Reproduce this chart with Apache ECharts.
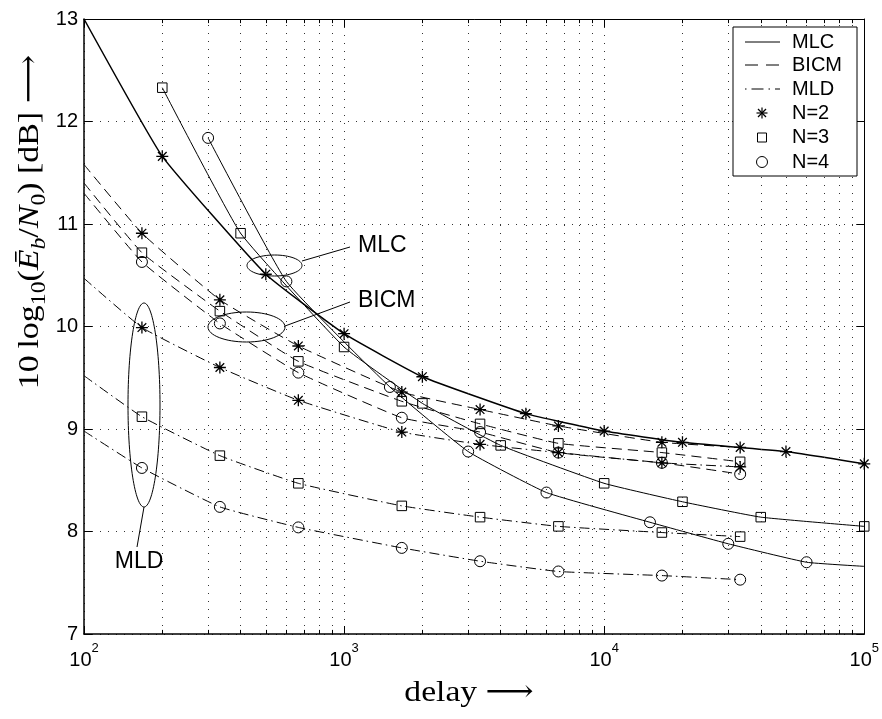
<!DOCTYPE html>
<html>
<head>
<meta charset="utf-8">
<script src="https://cdn.jsdelivr.net/npm/echarts@6/dist/echarts.min.js"></script>
<style>
  html, body { margin: 0; padding: 0; background: #fff; }
  #chart { width: 882px; height: 719px; }
</style>
</head>
<body>
<div id="chart"></div>
<script>
// Delay grids for the different curves
const delaysMLC2 = [100, 200, 500, 1000, 2000, 5000, 10000, 20000, 50000, 100000];
const delaysMLC3 = [200, 400, 1000, 2000, 4000, 10000, 20000, 40000, 100000];
const delaysMLC4 = [300, 600, 1500, 3000, 6000, 15000, 30000, 60000, 100000];
const delaysShort = [100, 167, 333, 667, 1667, 3333, 6667, 16667, 33333];

// Required 10log10(Eb/N0) in dB
const mlcN2 = [13.0, 11.66, 10.51, 9.93, 9.51, 9.15, 8.98, 8.87, 8.78, 8.66];
const mlcN3 = [12.33, 10.91, 9.80, 9.25, 8.84, 8.47, 8.29, 8.14, 8.05];
const mlcN4 = [11.84, 10.44, 9.41, 8.78, 8.38, 8.09, 7.88, 7.70, 7.66];
const bicmN2 = [11.58, 10.91, 10.26, 9.81, 9.36, 9.19, 9.03, 8.87, 8.82];
const bicmN3 = [11.40, 10.72, 10.15, 9.66, 9.27, 9.05, 8.86, 8.77, 8.68];
const bicmN4 = [11.30, 10.63, 10.03, 9.55, 9.11, 8.97, 8.77, 8.67, 8.56];
const mldN2 = [10.47, 9.99, 9.60, 9.28, 8.97, 8.85, 8.77, 8.67, 8.63];
const mldN3 = [9.52, 9.12, 8.74, 8.47, 8.25, 8.14, 8.05, 7.99, 7.95];
const mldN4 = [8.98, 8.62, 8.24, 8.04, 7.84, 7.71, 7.61, 7.57, 7.53];

// Axis settings
const yTicks = [7, 8, 9, 10, 11, 12, 13];
const minorDelays = [200, 300, 400, 500, 600, 700, 800, 900,
                     2000, 3000, 4000, 5000, 6000, 7000, 8000, 9000,
                     20000, 30000, 40000, 50000, 60000, 70000, 80000, 90000];

const legendLabels = ['MLC', 'BICM', 'MLD', 'N=2', 'N=3', 'N=4'];
const annotationLabels = ['MLC', 'BICM', 'MLD'];

const SANS = 'Liberation Sans, Arial, Helvetica, sans-serif';
const SERIF = 'Liberation Serif, DejaVu Serif, Times New Roman, serif';

const STAR = 'path://M0,-10L0,10M-10,0L10,0M-7.2,-7.2L7.2,7.2M-7.2,7.2L7.2,-7.2';
const markers = {
  star: { symbol: STAR, size: 12, border: 1.3 },
  square: { symbol: 'rect', size: 9.5, border: 1 },
  circle: { symbol: 'circle', size: 11, border: 1 }
};
const dashes = {
  solid: 'solid',
  dashed: [10, 6],
  dashdot: [10, 4, 1.5, 4]
};

const series = [];
function addCurve(name, xs, ys, dash, marker, width, unmarked) {
  series.push({
    name: name,
    type: 'line',
    xAxisIndex: 0,
    yAxisIndex: 0,
    data: xs.map(function (x, i) {
      const d = { value: [x, ys[i]] };
      if (unmarked.indexOf(i) >= 0) d.symbol = 'none';
      return d;
    }),
    symbol: marker.symbol,
    symbolSize: marker.size,
    smooth: 0.12,
    lineStyle: { color: '#000', width: width, type: dash },
    itemStyle: { color: 'rgba(0,0,0,0)', borderColor: '#000', borderWidth: marker.border },
    emphasis: { disabled: true },
    silent: true,
    animation: false,
    clip: true,
    z: 3
  });
}

addCurve('MLC N=2', delaysMLC2, mlcN2, dashes.solid, markers.star, 1.5, [0]);
addCurve('MLC N=3', delaysMLC3, mlcN3, dashes.solid, markers.square, 1, []);
addCurve('MLC N=4', delaysMLC4, mlcN4, dashes.solid, markers.circle, 1, [8]);
addCurve('BICM N=2', delaysShort, bicmN2, dashes.dashed, markers.star, 1, [0]);
addCurve('BICM N=3', delaysShort, bicmN3, dashes.dashed, markers.square, 1, [0]);
addCurve('BICM N=4', delaysShort, bicmN4, dashes.dashed, markers.circle, 1, [0]);
addCurve('MLD N=2', delaysShort, mldN2, dashes.dashdot, markers.star, 1, [0]);
addCurve('MLD N=3', delaysShort, mldN3, dashes.dashdot, markers.square, 1, [0]);
addCurve('MLD N=4', delaysShort, mldN4, dashes.dashdot, markers.circle, 1, [0]);

// Minor log grid lines and the short minor ticks on the bottom and top edges
const gridDots = { type: [1, 7], color: '#333', width: 1 };
series.push({
  type: 'line',
  data: [],
  silent: true,
  animation: false,
  markLine: {
    silent: true,
    animation: false,
    symbol: ['none', 'none'],
    label: { show: false },
    lineStyle: gridDots,
    emphasis: { disabled: true },
    data: minorDelays.map(function (v) { return { xAxis: v }; })
  }
});
const tickLines = [];
minorDelays.forEach(function (v) {
  tickLines.push([{ coord: [v, 7] }, { coord: [v, 7.04] }]);
  tickLines.push([{ coord: [v, 13] }, { coord: [v, 12.96] }]);
});
series.push({
  type: 'line',
  data: [],
  silent: true,
  animation: false,
  markLine: {
    silent: true,
    animation: false,
    symbol: ['none', 'none'],
    label: { show: false },
    lineStyle: { type: 'solid', color: '#000', width: 1 },
    emphasis: { disabled: true },
    data: tickLines
  }
});

const chart = echarts.init(document.getElementById('chart'), null, { renderer: 'canvas' });

// Legend and annotation graphics
const graphics = [];
const lx = 733, ly = 27, lw = 124, lh = 149;
graphics.push({ type: 'rect', shape: { x: lx, y: ly, width: lw, height: lh },
  style: { fill: '#fff', stroke: '#000', lineWidth: 1 }, z: 100 });
const rowY = [42, 65, 89, 113, 137.5, 162];
const sx1 = 745, sx2 = 780, mx = 762, tx = 792;
graphics.push({ type: 'line', shape: { x1: sx1, y1: rowY[0], x2: sx2, y2: rowY[0] },
  style: { stroke: '#000', lineWidth: 1 }, z: 101 });
graphics.push({ type: 'line', shape: { x1: sx1, y1: rowY[1], x2: sx2, y2: rowY[1] },
  style: { stroke: '#000', lineWidth: 1, lineDash: [13, 8] }, z: 101 });
graphics.push({ type: 'line', shape: { x1: sx1, y1: rowY[2], x2: sx2, y2: rowY[2] },
  style: { stroke: '#000', lineWidth: 1, lineDash: [1.5, 5, 12, 5], lineDashOffset: 0 }, z: 101 });
// star marker
[[0, -5.5, 0, 5.5], [-5.5, 0, 5.5, 0], [-4, -4, 4, 4], [-4, 4, 4, -4]].forEach(function (s) {
  graphics.push({ type: 'line', shape: { x1: mx + s[0], y1: rowY[3] + s[1], x2: mx + s[2], y2: rowY[3] + s[3] },
    style: { stroke: '#000', lineWidth: 1.2 }, z: 101 });
});
graphics.push({ type: 'rect', shape: { x: mx - 4.5, y: rowY[4] - 4.5, width: 9, height: 9 },
  style: { fill: 'none', stroke: '#000', lineWidth: 1 }, z: 101 });
graphics.push({ type: 'circle', shape: { cx: mx, cy: rowY[5], r: 5.5 },
  style: { fill: 'none', stroke: '#000', lineWidth: 1 }, z: 101 });
legendLabels.forEach(function (t, i) {
  graphics.push({ type: 'text', x: tx, y: rowY[i], z: 101,
    style: { text: t, fill: '#000', font: '20px ' + SANS, align: 'left', verticalAlign: 'middle' } });
});

// Ellipses grouping the curve families, with leader lines and labels
const ell = [
  { cx: 274.5, cy: 265.5, rx: 27.5, ry: 10.5, l: [302, 261, 350, 247], t: [358, 246, 'left'] },
  { cx: 246.5, cy: 327, rx: 38.5, ry: 15, l: [285, 326, 350, 302], t: [358, 301, 'left'] },
  { cx: 144, cy: 405, rx: 16, ry: 102, l: [144, 507, 137, 547], t: [139, 562, 'center'] }
];
ell.forEach(function (e, i) {
  graphics.push({ type: 'ellipse', shape: { cx: e.cx, cy: e.cy, rx: e.rx, ry: e.ry },
    style: { fill: 'none', stroke: '#000', lineWidth: 1 }, z: 50 });
  graphics.push({ type: 'line', shape: { x1: e.l[0], y1: e.l[1], x2: e.l[2], y2: e.l[3] },
    style: { stroke: '#000', lineWidth: 1 }, z: 50 });
  graphics.push({ type: 'text', x: e.t[0], y: e.t[1], z: 50,
    style: { text: annotationLabels[i], fill: '#000', font: '23px ' + SANS, align: e.t[2], verticalAlign: 'middle' } });
});

// Axis titles
graphics.push({
  type: 'text', x: 30, y: 222, rotation: Math.PI / 2, scaleX: 1.13, z: 50,
  style: {
    text: '{n|10\u2009log}{s|10}{n|(}{i|\u0112}{si|b}{n|/}{i|N}{s|0}{n|) [dB] \u27F6}',
    align: 'center', verticalAlign: 'middle', fill: '#000',
    rich: {
      n: { fontFamily: SERIF, fontSize: 30, lineHeight: 40, verticalAlign: 'middle', fill: '#000' },
      i: { fontFamily: SERIF, fontSize: 30, fontStyle: 'italic', lineHeight: 40, verticalAlign: 'middle', fill: '#000' },
      s: { fontFamily: SERIF, fontSize: 21, lineHeight: 20, verticalAlign: 'bottom', fill: '#000' },
      si: { fontFamily: SERIF, fontSize: 21, fontStyle: 'italic', lineHeight: 20, verticalAlign: 'bottom', fill: '#000' }
    }
  }
});
graphics.push({
  type: 'text', x: 469, y: 693, scaleX: 1.12, z: 50,
  style: { text: 'delay \u27F6', font: '30px ' + SERIF, fill: '#000', align: 'center', verticalAlign: 'middle' }
});

const axisLineThick = { show: true, lineStyle: { color: '#000', width: 1.5 } };
const axisLineThin = { show: true, lineStyle: { color: '#000', width: 1 } };

chart.setOption({
  animation: false,
  backgroundColor: '#fff',
  grid: { left: 84, right: 16, top: 19, bottom: 85, containLabel: false },
  xAxis: [{
    type: 'log', logBase: 10, min: 100, max: 100000, splitNumber: 3,
    position: 'bottom',
    axisLine: axisLineThick,
    axisTick: { show: true, inside: true, length: 8, lineStyle: { color: '#000', width: 1 } },
    splitLine: { show: true, lineStyle: gridDots },
    axisLabel: {
      margin: 8,
      formatter: function (v) { return '{b|10}{e|' + Math.round(Math.log10(v)) + '}'; },
      rich: {
        b: { fontFamily: SANS, fontSize: 20, lineHeight: 28, verticalAlign: 'bottom', color: '#000' },
        e: { fontFamily: SANS, fontSize: 13, lineHeight: 14, verticalAlign: 'top', color: '#000' }
      }
    }
  }, {
    type: 'log', logBase: 10, min: 100, max: 100000, splitNumber: 3,
    position: 'top',
    axisLine: axisLineThin,
    axisTick: { show: true, inside: true, length: 8, lineStyle: { color: '#000', width: 1 } },
    splitLine: { show: false },
    axisLabel: { show: false }
  }],
  yAxis: [{
    type: 'value', min: 7, max: 13, interval: 1,
    position: 'left',
    axisLine: axisLineThick,
    axisTick: { show: true, inside: true, length: 8, lineStyle: { color: '#000', width: 1 } },
    splitLine: { show: true, lineStyle: gridDots },
    axisLabel: { margin: 6, fontFamily: SANS, fontSize: 20, color: '#000',
      formatter: function (v) { return yTicks.indexOf(v) >= 0 ? String(v) : ''; } }
  }, {
    type: 'value', min: 7, max: 13, interval: 1,
    position: 'right',
    axisLine: axisLineThin,
    axisTick: { show: true, inside: true, length: 8, lineStyle: { color: '#000', width: 1 } },
    splitLine: { show: false },
    axisLabel: { show: false }
  }],
  series: series,
  graphic: graphics
});
</script>
</body>
</html>
